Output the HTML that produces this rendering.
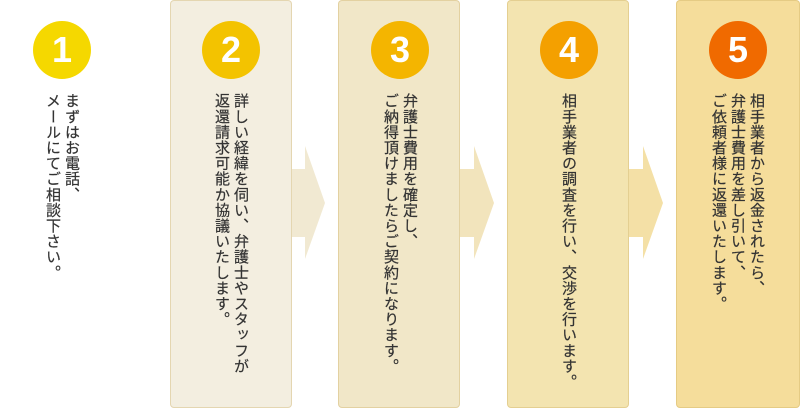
<!DOCTYPE html>
<html><head><meta charset="utf-8"><style>
body{margin:0;width:800px;height:410px;background:#fff;position:relative;overflow:hidden;font-family:"Liberation Sans","Noto Sans CJK JP",sans-serif}
.p{position:absolute;top:0;height:408px;width:122px;border-radius:4px;box-shadow:inset 0 0 0 1px rgba(200,170,90,.35)}
.c{position:absolute;top:21px;width:58px;height:58px;border-radius:50%;color:#fff;font:bold 36px/58px "Liberation Sans",sans-serif;text-align:center}
.t{position:absolute;top:93px;writing-mode:vertical-rl;font-size:15px;line-height:19px;letter-spacing:.6px;color:#333;white-space:nowrap;-webkit-text-stroke:.2px #333}
</style></head><body>
<div class="p" style="left:170px;background:#f3eee0"></div>
<div class="p" style="left:338px;background:#f1e7c8"></div>
<div class="p" style="left:507px;background:#f3e4b0"></div>
<div class="p" style="left:676px;width:124px;background:#f5dd9b"></div>
<svg width="800" height="410" style="position:absolute;left:0;top:0">
<polygon points="292,169 305,169 305,146 325,203 305,259 305,237 292,237" fill="#f1e9d2"/>
<polygon points="460,169 474,169 474,146 494,203 474,259 474,237 460,237" fill="#f2e4bc"/>
<polygon points="629,169 643,169 643,146 663,203 643,259 643,237 629,237" fill="#f4e0a6"/>
</svg>
<div class="c" style="left:33px;background:#f5d800">1</div>
<div class="c" style="left:202px;background:#f3c300">2</div>
<div class="c" style="left:371px;background:#f4b500">3</div>
<div class="c" style="left:540px;background:#f4a000">4</div>
<div class="c" style="left:709px;background:#f06a00">5</div>
<div class="t" style="left:43px">まずはお電話、<br>メールにてご相談下さい。</div>
<div class="t" style="left:212px">詳しい経緯を伺い、弁護士やスタッフが<br>返還請求可能か協議いたします。</div>
<div class="t" style="left:381px">弁護士費用を確定し、<br>ご納得頂けましたらご契約になります。</div>
<div class="t" style="left:559px">相手業者の調査を行い、交渉を行います。</div>
<div class="t" style="left:709px">相手業者から返金されたら、<br>弁護士費用を差し引いて、<br>ご依頼者様に返還いたします。</div>
</body></html>
